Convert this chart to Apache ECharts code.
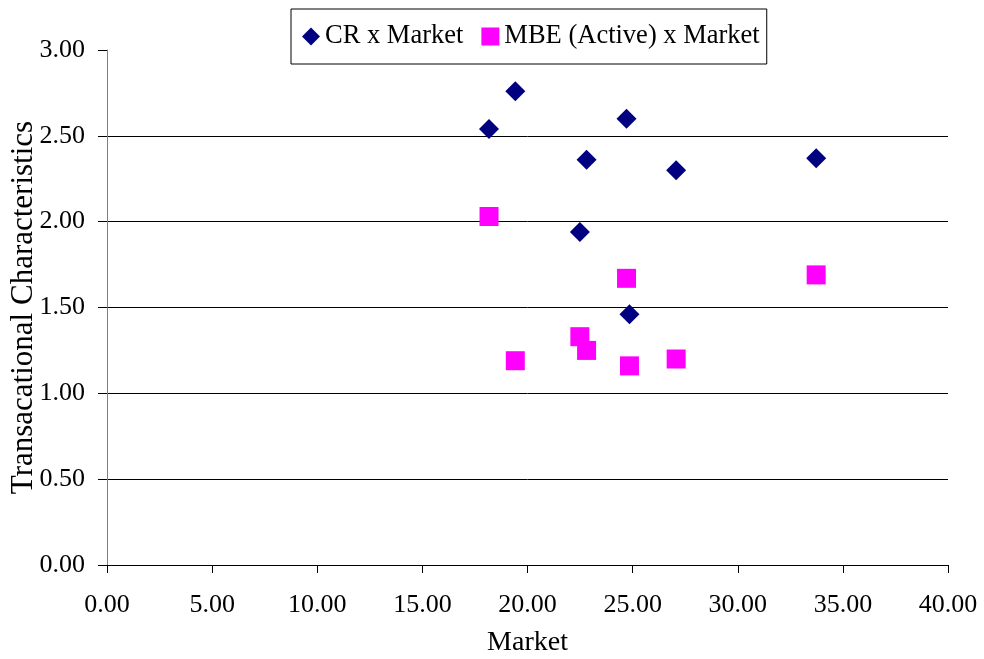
<!DOCTYPE html>
<html><head><meta charset="utf-8">
<script src="https://cdn.jsdelivr.net/npm/echarts@6/dist/echarts.min.js"></script>
<style>html,body{margin:0;padding:0;background:#fff}#c{width:984px;height:659px}</style>
</head><body><div id="c"></div>
<script>
const marketX = [18.17, 19.42, 24.71, 22.81, 27.07, 33.73, 22.49, 24.85];
const crY = [2.54, 2.76, 2.60, 2.36, 2.30, 2.37, 1.94, 1.46];
const mbeY = [2.03, 1.19, 1.67, 1.25, 1.20, 1.69, 1.33, 1.16];
const seriesNames = ['CR x Market', 'MBE (Active) x Market'];
const xTicks = {min: 0, max: 40, interval: 5};
const yTicks = {min: 0, max: 3, interval: 0.5};

const font = 'Liberation Serif';
const chart = echarts.init(document.getElementById('c'));
chart.setOption({
  animation: false,
  textStyle: {fontFamily: font},
  grid: {left: 107, right: 36, top: 50, bottom: 94, containLabel: false, outerBoundsMode: 'none'},
  legend: {
    top: 9, left: 291,
    padding: [14, 7, 14, 11],
    borderColor: '#000', borderWidth: 1,
    itemWidth: 18, itemHeight: 18, itemGap: 18,
    textStyle: {fontFamily: font, fontSize: 26.5, color: '#000'},
    data: [{name: seriesNames[0], icon: 'diamond'}, {name: seriesNames[1], icon: 'rect'}]
  },
  xAxis: {
    type: 'value', min: xTicks.min, max: xTicks.max, interval: xTicks.interval,
    name: 'Market', nameLocation: 'middle', nameGap: 64,
    nameTextStyle: {fontFamily: font, fontSize: 28, color: '#000'},
    axisLine: {show: true, onZero: false, lineStyle: {color: '#000', width: 1}},
    axisTick: {show: true, inside: false, length: 8, lineStyle: {color: '#000'}},
    axisLabel: {fontFamily: font, fontSize: 26, color: '#000', margin: 27, formatter: v => v.toFixed(2)},
    splitLine: {show: false}
  },
  yAxis: {
    type: 'value', min: yTicks.min, max: yTicks.max, interval: yTicks.interval,
    name: 'Transacational Characteristics', nameLocation: 'middle', nameGap: 68,
    nameMoveOverlap: false,
    nameTextStyle: {fontFamily: font, fontSize: 31, color: '#000'},
    axisLine: {show: true, lineStyle: {color: '#808080', width: 1}},
    axisTick: {show: true, inside: false, length: 9, lineStyle: {color: '#000'}},
    axisLabel: {fontFamily: font, fontSize: 26, color: '#000', margin: 22, formatter: v => v.toFixed(2)},
    splitLine: {show: true, showMaxLine: false, lineStyle: {color: '#000', width: 1}}
  },
  series: [
    {name: seriesNames[0], type: 'scatter', symbol: 'diamond', symbolSize: 20,
     itemStyle: {color: '#000080', opacity: 1}, data: marketX.map((x, i) => [x, crY[i]])},
    {name: seriesNames[1], type: 'scatter', symbol: 'rect', symbolSize: 19,
     itemStyle: {color: '#FF00FF', opacity: 1}, data: marketX.map((x, i) => [x, mbeY[i]])}
  ]
});
</script></body></html>
